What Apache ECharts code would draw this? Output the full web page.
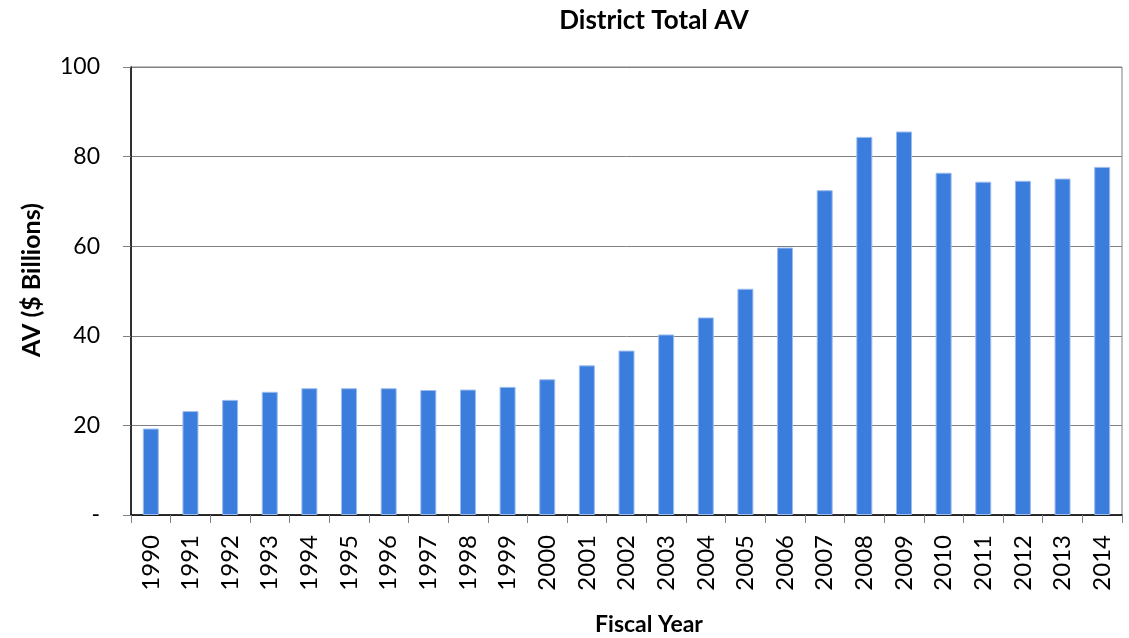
<!DOCTYPE html>
<html>
<head>
<meta charset="utf-8">
<script src="https://cdn.jsdelivr.net/npm/echarts@6/dist/echarts.min.js"></script>
<style>
html,body{margin:0;padding:0;background:#fff;}
#c{width:1129px;height:638px;}
</style>
</head>
<body>
<div id="c"></div>
<script>
const years = ['1990','1991','1992','1993','1994','1995','1996','1997','1998','1999','2000','2001','2002','2003','2004','2005','2006','2007','2008','2009','2010','2011','2012','2013','2014'];
const avValues = [19.3,23.2,25.7,27.5,28.3,28.3,28.3,27.9,28.0,28.6,30.3,33.4,36.7,40.3,44.1,50.5,59.7,72.5,84.4,85.6,76.4,74.4,74.6,75.1,77.7];
const yTicks = [0,20,40,60,80,100];

const FONT = 'Lato, "Open Sans", sans-serif';
const chart = echarts.init(document.getElementById('c'));
chart.setOption({
  animation:false,
  title:{text:'District Total AV', left:649, top:3, textAlign:'center',
    textStyle:{fontFamily:FONT, fontWeight:'bold', fontSize:26, color:'#000'}},
  graphic:[
    {type:'text', x:32, y:280, rotation:Math.PI/2,
      style:{text:'AV ($ Billions)', font:'bold 25px '+FONT, fill:'#000', align:'center', verticalAlign:'middle'}},
    {type:'text', x:649, y:625,
      style:{text:'Fiscal Year', font:'bold 23px '+FONT, fill:'#000', align:'center', verticalAlign:'middle'}}
  ],
  grid:{left:131, right:7, top:67, bottom:123, show:true, borderColor:'#808080', borderWidth:1,
    containLabel:false, outerBoundsMode:'none'},
  xAxis:{type:'category', data:years,
    axisLine:{lineStyle:{color:'#000', width:1.5}},
    axisTick:{show:true, length:8, lineStyle:{color:'#808080'}},
    axisLabel:{rotate:90, margin:20, fontFamily:FONT, fontSize:24, color:'#000'}},
  yAxis:{type:'value', min:0, max:100, interval:20,
    axisLine:{show:true, lineStyle:{color:'#000', width:1.5}},
    axisTick:{show:true, length:8, lineStyle:{color:'#808080'}},
    splitLine:{lineStyle:{color:'#808080', width:1}},
    axisLabel:{margin:31, fontFamily:FONT, fontSize:23, color:'#000',
      formatter:v=> yTicks.indexOf(v)===0 ? '-' : String(v)}},
  series:[{type:'bar', data:avValues, barWidth:16,
    itemStyle:{color:'#3b7ddc', borderColor:'#9dbdee', borderWidth:1}}]
});
</script>
</body>
</html>
